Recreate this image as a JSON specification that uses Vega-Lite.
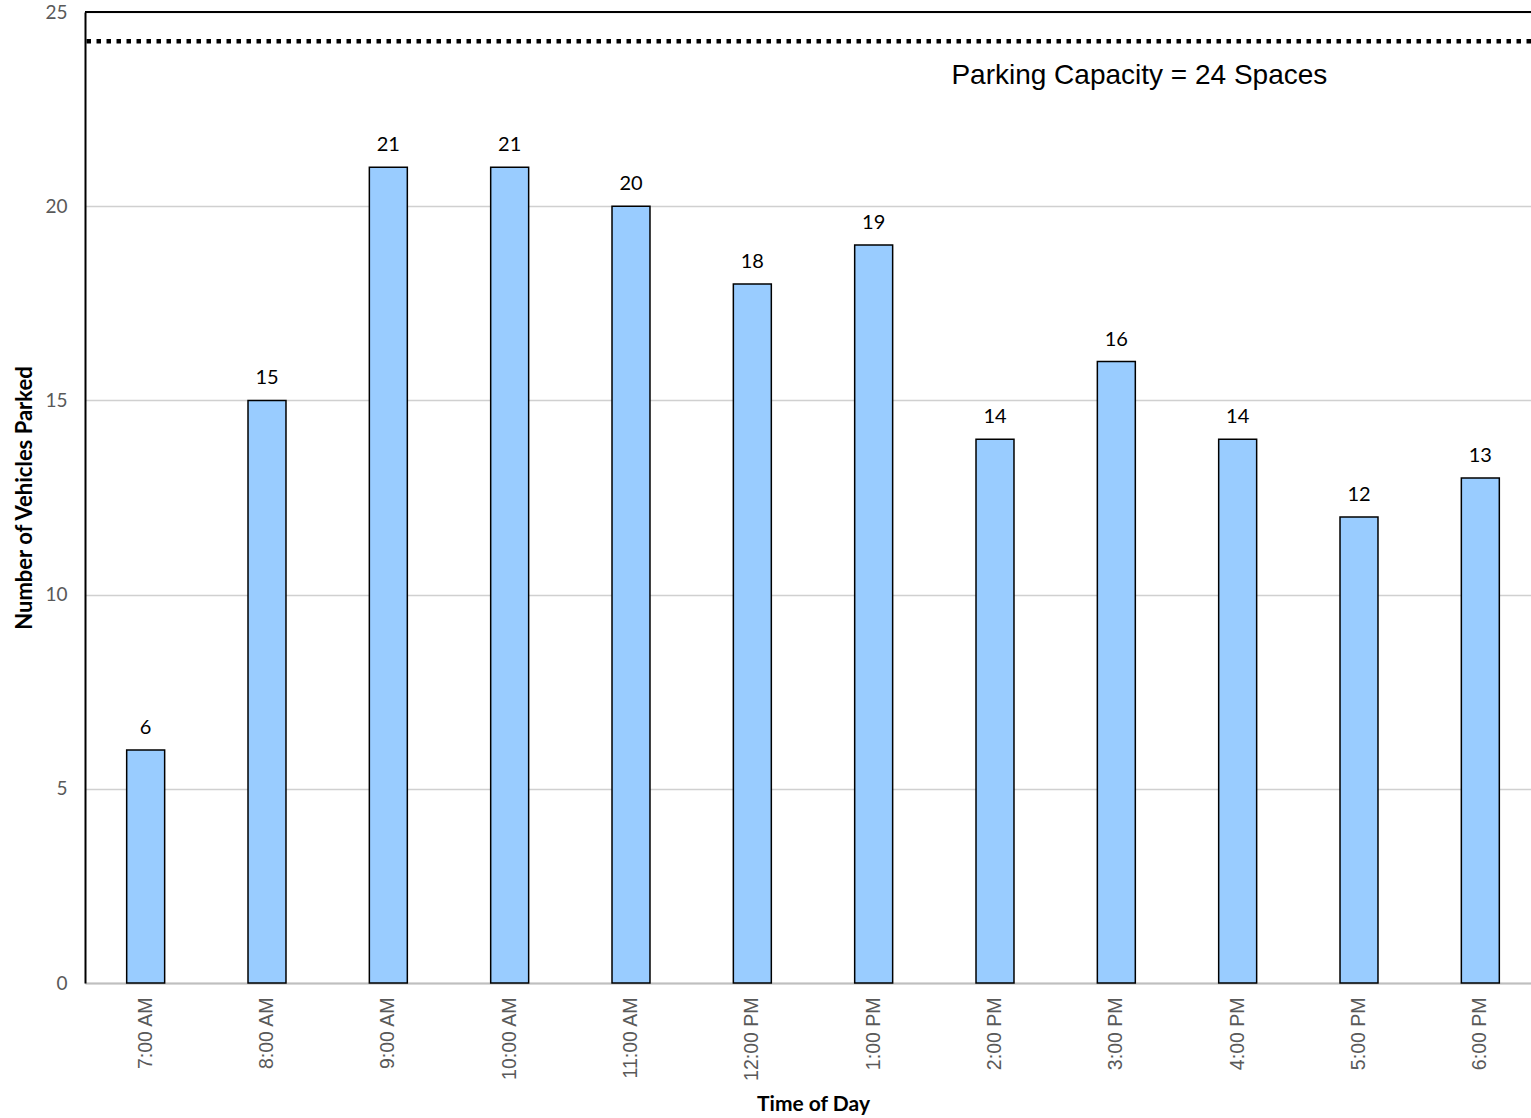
{
  "$schema": "https://vega.github.io/schema/vega-lite/v6.json",
  "width": 1456,
  "height": 971,
  "autosize": {"type": "none"},
  "padding": {"left": 85, "top": 12, "right": 0, "bottom": 135},
  "background": "white",
  "config": {"view": {"stroke": null}},
  "datasets": {
    "counts": [
      {"time": "7:00 AM", "vehicles": 6},
      {"time": "8:00 AM", "vehicles": 15},
      {"time": "9:00 AM", "vehicles": 21},
      {"time": "10:00 AM", "vehicles": 21},
      {"time": "11:00 AM", "vehicles": 20},
      {"time": "12:00 PM", "vehicles": 18},
      {"time": "1:00 PM", "vehicles": 19},
      {"time": "2:00 PM", "vehicles": 14},
      {"time": "3:00 PM", "vehicles": 16},
      {"time": "4:00 PM", "vehicles": 14},
      {"time": "5:00 PM", "vehicles": 12},
      {"time": "6:00 PM", "vehicles": 13}
    ]
  },
  "layer": [
    {
      "data": {"name": "counts"},
      "mark": {"type": "bar", "fill": "#99CCFF", "stroke": "#000000", "strokeWidth": 1.5},
      "encoding": {
        "x": {
          "field": "time", "type": "nominal", "sort": null,
          "scale": {"paddingInner": 0.687, "paddingOuter": 0.3435},
          "axis": {
            "title": "Time of Day", "titleFont": "Lato", "titleFontSize": 21, "titleFontWeight": "bold", "titleColor": "#000000", "titlePadding": 13,
            "labelAngle": -90, "labelFont": "Liberation Sans", "labelFontSize": 19.5, "labelColor": "#595959", "labelPadding": 14,
            "ticks": false, "domainColor": "#bfbfbf", "domainWidth": 2, "grid": false
          }
        },
        "y": {
          "field": "vehicles", "type": "quantitative",
          "scale": {"domain": [0, 25], "nice": false},
          "axis": {
            "title": "Number of Vehicles Parked", "titleFont": "Lato", "titleFontSize": 22, "titleFontWeight": "bold", "titleColor": "#000000", "titlePadding": 8,
            "values": [0, 5, 10, 15, 20, 25], "labelFont": "Lato", "labelFontSize": 19, "labelColor": "#595959", "labelPadding": 18,
            "ticks": false, "domainColor": "#000000", "domainWidth": 2,
            "grid": true, "gridColor": "#d0d0d0", "gridWidth": 1.5
          }
        }
      }
    },
    {
      "data": {"name": "counts"},
      "mark": {"type": "text", "font": "Lato", "fontSize": 20, "color": "#000000", "baseline": "bottom", "dy": -12},
      "encoding": {
        "x": {"field": "time", "type": "nominal", "sort": null},
        "y": {"field": "vehicles", "type": "quantitative"},
        "text": {"field": "vehicles", "type": "quantitative"}
      }
    },
    {
      "data": {"values": [{"top": 25}]},
      "mark": {"type": "rule", "color": "#000000", "strokeWidth": 2},
      "encoding": {"y": {"field": "top", "type": "quantitative"}}
    },
    {
      "data": {"values": [{"capacity": 24.25}]},
      "mark": {"type": "rule", "color": "#000000", "strokeWidth": 4.5, "strokeDash": [4.5, 5.5]},
      "encoding": {"y": {"field": "capacity", "type": "quantitative"}}
    },
    {
      "data": {"values": [{"time": "3:00 PM", "pos": 23.35, "label": "Parking Capacity = 24 Spaces"}]},
      "mark": {"type": "text", "font": "Liberation Sans", "fontSize": 28, "color": "#000000", "baseline": "middle", "align": "center", "dx": 23},
      "encoding": {
        "x": {"field": "time", "type": "nominal", "sort": null},
        "y": {"field": "pos", "type": "quantitative"},
        "text": {"field": "label"}
      }
    }
  ]
}
